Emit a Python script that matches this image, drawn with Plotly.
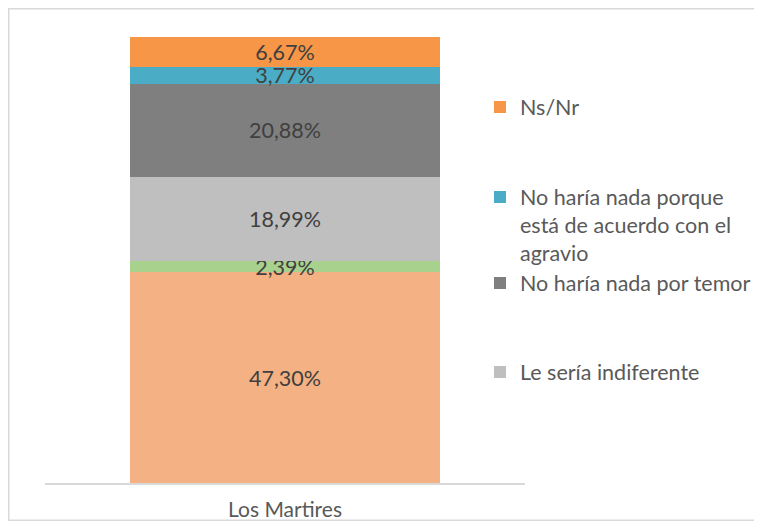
import plotly.graph_objects as go

categories = ["Los Martires"]

series_names = [
    "Serie 6",
    "Serie 5",
    "Le sería indiferente",
    "No haría nada por temor",
    "No haría nada porque<br>está de acuerdo con el<br>agravio",
    "Ns/Nr",
]
series_values = [47.30, 2.39, 18.99, 20.88, 3.77, 6.67]
series_colors = ["#F4B183", "#A9D18E", "#BFBFBF", "#7F7F7F", "#4BACC6", "#F79646"]
series_in_legend = [False, False, True, True, True, True]

legend_ids = [None, None, "legend4", "legend3", "legend2", "legend"]

# page body has an 8px margin on every side: keep the figure inside the viewport
OFF = 8
W, H = 762 - 2 * OFF, 529 - 2 * OFF
L, T = 45 - OFF, 37 - OFF
R = W - (525 - OFF)
B = H - (483 - OFF)
plot_w = W - L - R
plot_h = H - T - B


def py(pix):
    # pix in screenshot coordinates
    return (483 - pix) / plot_h


def px(pix):
    return (pix - 45) / plot_w


FONT = "Lato"

fig = go.Figure()
for name, val, col, show, lid in zip(series_names, series_values, series_colors,
                                     series_in_legend, legend_ids):
    label = f"{val:.2f}%".replace(".", ",")
    kw = dict(
        x=categories,
        y=[val],
        name=name,
        marker=dict(color=col, line=dict(width=0)),
        text=[label],
        textposition="inside",
        insidetextanchor="middle",
        constraintext="none",
        textfont=dict(family=FONT, size=21.5, color="#404040"),
        showlegend=show,
    )
    if lid:
        kw["legend"] = lid
    fig.add_trace(go.Bar(**kw))

legend_common = dict(
    font=dict(family=FONT, size=21.5, color="#595959"),
    bgcolor="rgba(0,0,0,0)",
    xanchor="left",
    x=px(480),
    itemclick=False,
    valign="top",
)

fig.update_layout(
    barmode="stack",
    bargap=0.354,
    width=W,
    height=H,
    margin=dict(l=L, r=R, t=T, b=B, autoexpand=False),
    paper_bgcolor="white",
    plot_bgcolor="white",
    legend=dict(**legend_common, y=py(107), yanchor="middle"),
    legend2=dict(**legend_common, y=py(225), yanchor="middle"),
    legend3=dict(**legend_common, y=py(283), yanchor="middle"),
    legend4=dict(**legend_common, y=py(372), yanchor="middle"),
    xaxis=dict(
        showline=True,
        linecolor="#D9D9D9",
        linewidth=2,
        ticks="",
        showgrid=False,
        automargin=False,
        tickfont=dict(family=FONT, size=21, color="#595959"),
        ticklabelstandoff=7,
    ),
    yaxis=dict(range=[0, 100], visible=False, showgrid=False, automargin=False),
    shapes=[
        dict(
            type="rect",
            xref="paper",
            yref="paper",
            x0=px(8.75),
            x1=px(1200),
            y0=py(520.25),
            y1=py(8.75),
            line=dict(color="#D9D9D9", width=1.5),
            fillcolor="rgba(0,0,0,0)",
            layer="below",
        )
    ],
)

fig.write_html("out.html")
